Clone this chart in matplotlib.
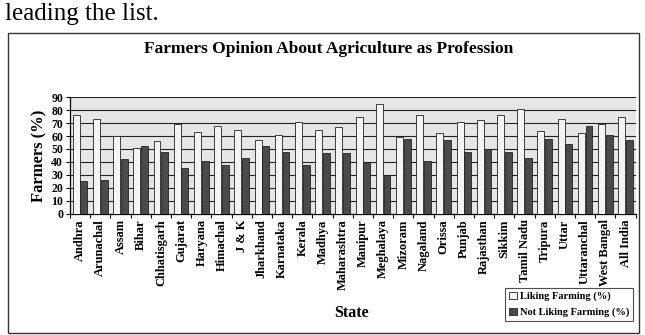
import numpy as np
import matplotlib.pyplot as plt
from matplotlib.patches import Rectangle

states = ['Andhra', 'Arunachal', 'Assam', 'Bihar', 'Chhatisgarh', 'Gujarat',
          'Haryana', 'Himachal', 'J & K', 'Jharkhand', 'Karnataka', 'Kerala',
          'Madhya', 'Maharashtra', 'Manipur', 'Meghalaya', 'Mizoram', 'Nagaland',
          'Orissa', 'Punjab', 'Rajasthan', 'Sikkim', 'Tamil Nadu', 'Tripura',
          'Uttar', 'Uttaranchal', 'West Bangal', 'All India']
liking = [76, 73, 60, 51, 56, 69, 63, 68, 65, 57, 61, 71, 65, 67, 75, 85, 59, 76,
          62, 71, 72, 76, 81, 64, 73, 62, 69, 75]
not_liking = [25, 26, 42, 52, 48, 35, 41, 38, 43, 52, 48, 38, 47, 47, 40, 30, 58, 41,
              57, 48, 50, 48, 43, 58, 54, 68, 61, 57]
yticks = list(range(0, 91, 10))

plt.rcParams['font.family'] = ['Liberation Serif', 'DejaVu Serif']

fig = plt.figure(figsize=(6.45, 3.35), dpi=100)

# scanned page text above the chart
fig.text(0.008, 0.94, 'leading the list.', fontsize=18, va='baseline', ha='left')

# chart frame
fig.patches.append(Rectangle((0.012, 0.006), 0.978, 0.895, transform=fig.transFigure,
                             fill=False, edgecolor='#333333', lw=1.0))

fig.text(0.51, 0.855, 'Farmers Opinion About Agriculture as Profession',
         fontsize=12.5, fontweight='bold', ha='center', va='center')

ax = fig.add_axes([0.1085, 0.362, 0.877, 0.348])
x = np.arange(len(states))
w = 0.34
ax.set_facecolor('#e6e6e6')
ax.bar(x - w / 2 - 0.02, liking, w, color='#f4f4f4', edgecolor='#222222', lw=0.6,
       label='Liking Farming (%)', zorder=3)
ax.bar(x + w / 2 + 0.02, not_liking, w, color='#4a4a4a', edgecolor='#222222', lw=0.6,
       label='Not Liking Farming (%)', zorder=3)

ax.set_xlim(-0.5, len(states) - 0.5)
ax.set_ylim(0, 90)
ax.set_yticks(yticks)
ax.yaxis.grid(True, color='#222222', lw=0.8, zorder=1)
ax.set_xticks(x)
ax.set_xticklabels(states, rotation=90, fontsize=9, fontweight='bold')
ax.set_xticks(np.arange(-0.5, len(states), 1), minor=True)
ax.tick_params(axis='x', which='major', length=0, pad=4)
ax.tick_params(axis='x', which='minor', length=3, width=0.8)
ax.tick_params(axis='y', length=3, width=0.8, labelsize=8.5, pad=2)
for lab in ax.get_yticklabels():
    lab.set_fontweight('bold')
for side in ['top', 'right']:
    ax.spines[side].set_visible(False)
ax.spines['left'].set_linewidth(0.9)
ax.spines['bottom'].set_linewidth(0.9)

ax.set_ylabel('Farmers (%)', fontsize=12, fontweight='bold', labelpad=3)
fig.text(0.545, 0.066, 'State', fontsize=11.5, fontweight='bold', ha='center', va='center')

leg = fig.legend(loc='lower right', bbox_to_anchor=(0.99, 0.025),
                 prop={'weight': 'bold', 'size': 7.5}, frameon=True, fancybox=False,
                 handlelength=0.7, handleheight=0.7, handletextpad=0.3,
                 borderpad=0.4, labelspacing=0.6)
leg.get_frame().set_edgecolor('#222222')
leg.get_frame().set_linewidth(0.8)

fig.savefig('out.png', dpi=100)
